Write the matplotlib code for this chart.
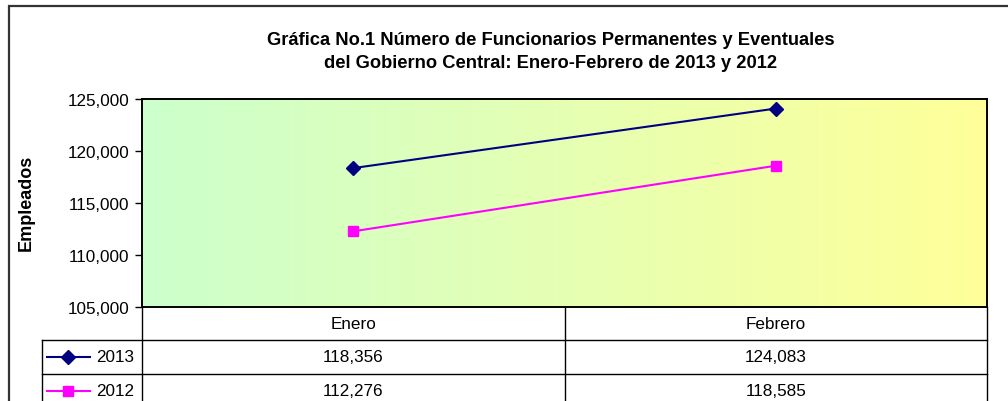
import numpy as np
import matplotlib
matplotlib.use("Agg")
import matplotlib.pyplot as plt
from matplotlib.colors import LinearSegmentedColormap
from matplotlib.lines import Line2D
from matplotlib.patches import Rectangle

# data
months = ["Enero", "Febrero"]
years = ["2013", "2012"]
vals_2013 = [118356, 124083]
vals_2012 = [112276, 118585]
yticks = [105000, 110000, 115000, 120000, 125000]

title = ("Gráfica No.1 Número de Funcionarios Permanentes y Eventuales\n"
         "del Gobierno Central: Enero-Febrero de 2013 y 2012")

W, H = 1008, 402
FS = 12.3
plt.rcParams["font.family"] = ["Liberation Sans", "DejaVu Sans"]

fig = plt.figure(figsize=(W / 100, H / 100), dpi=100)


def fx(x):
    return x / W


def fy(y):
    return 1 - y / H


def hline(y, x0, x1, lw=1.0, color="black"):
    fig.add_artist(Line2D([fx(x0), fx(x1)], [fy(y), fy(y)], lw=lw, color=color))


def vline(x, y0, y1, lw=1.0, color="black"):
    fig.add_artist(Line2D([fx(x), fx(x)], [fy(y0), fy(y1)], lw=lw, color=color))


# outer chart frame (extends past the image edge)
fig.add_artist(Rectangle((fx(9), fy(430)), fx(1030), 430 / H - 7 / H,
                         fill=False, lw=1.6, edgecolor="#333333"))

# plot area
L, R, T, B = 142, 987, 100, 308
ax = fig.add_axes([fx(L), fy(B), fx(R - L), (B - T) / H])

x = np.arange(len(months))
ax.set_xlim(-0.5, len(months) - 0.5)
ax.set_ylim(yticks[0], yticks[-1])

cmap = LinearSegmentedColormap.from_list("bg", ["#CCFFCC", "#FFFF99"])
grad = np.linspace(0, 1, 256).reshape(1, -1)
ax.imshow(grad, cmap=cmap, aspect="auto", zorder=0,
          extent=[-0.5, len(months) - 0.5, yticks[0], yticks[-1]])

ax.plot(x, vals_2013, color="#000080", lw=1.5, marker="D", ms=7, zorder=3)
ax.plot(x, vals_2012, color="#FF00FF", lw=1.5, marker="s", ms=7.5, zorder=3)

ax.set_yticks(yticks)
ax.set_yticklabels([f"{v:,}" for v in yticks], fontsize=FS)
ax.tick_params(axis="y", direction="out", length=5, width=1, pad=4)
ax.set_xticks([])
for s in ax.spines.values():
    s.set_linewidth(1.4)

fig.text(fx(26), fy(203), "Empleados", rotation=90, ha="center", va="center",
         fontsize=13, fontweight="bold")
fig.text(fx(551), fy(52), title, ha="center", va="center", fontsize=13.2,
         fontweight="bold", linespacing=1.5)

# data table
col_x = np.linspace(L, R, len(months) + 1)
row_y = [B, 341, 375, 409]
leg_l = 42
hline(row_y[1], leg_l, R)
hline(row_y[2], leg_l, R)
vline(leg_l, row_y[1], H + 5)
for cx in col_x:
    vline(cx, B, H + 5)

for i, m in enumerate(months):
    cx = (col_x[i] + col_x[i + 1]) / 2
    fig.text(fx(cx), fy((row_y[0] + row_y[1]) / 2), m, ha="center",
             va="center", fontsize=FS)

series = [(vals_2013, "#000080", "D", 7), (vals_2012, "#FF00FF", "s", 7.5)]
for r, (yr, (vals, c, mk, ms)) in enumerate(zip(years, series)):
    ymid = (row_y[r + 1] + row_y[r + 2]) / 2
    fig.add_artist(Line2D([fx(47), fx(90)], [fy(ymid), fy(ymid)], color=c,
                          lw=1.5))
    fig.add_artist(Line2D([fx(68)], [fy(ymid)], color=c, marker=mk, ms=ms))
    fig.text(fx(96), fy(ymid), yr, ha="left", va="center", fontsize=FS)
    for i, v in enumerate(vals):
        cx = (col_x[i] + col_x[i + 1]) / 2
        fig.text(fx(cx), fy(ymid), f"{v:,}", ha="center", va="center",
                 fontsize=FS)

fig.savefig("out.png", dpi=100)
